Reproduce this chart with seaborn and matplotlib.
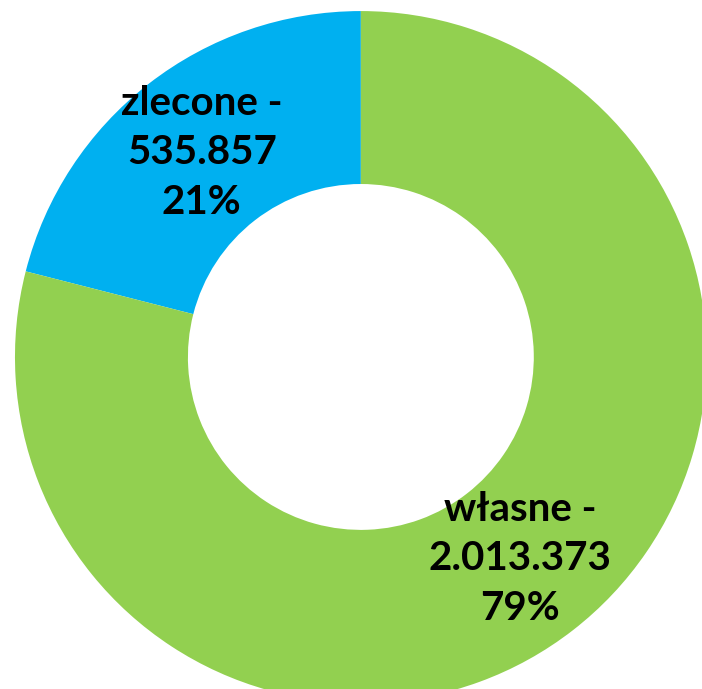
import matplotlib
matplotlib.use("Agg")
import matplotlib.pyplot as plt
import seaborn as sns

# dane: zlecone vs własne
categories = ["zlecone", "własne"]
values = [535857, 2013373]
value_labels = ["535.857", "2.013.373"]
colors = ["#00B0F0", "#92D050"]

sns.set_theme(style="white")
plt.rcParams['font.family'] = ['Lato', 'DejaVu Sans']

fig = plt.figure(figsize=(7.02, 6.89), dpi=100)
ax = fig.add_axes([0, 0, 1, 1])

wedges, _ = ax.pie(
    values,
    colors=colors,
    startangle=90,
    counterclock=True,
    radius=1.0,
    wedgeprops=dict(width=0.5, linewidth=0),
)

total = sum(values)
label_pos = [(-0.46, 0.59), (0.46, -0.583)]
for name, lab, v, (x, y) in zip(categories, value_labels, values, label_pos):
    pct = round(v / total * 100)
    ax.text(x, y, "{} -\n{}\n{}%".format(name, lab, pct),
            ha="center", va="center", fontsize=29, fontweight="bold",
            color="black", linespacing=1.42)

ax.set_xlim(-1.043, 0.986)
ax.set_ylim(-0.960, 1.032)
ax.set_aspect("equal")
ax.axis("off")

plt.savefig("out.png", dpi=100)
